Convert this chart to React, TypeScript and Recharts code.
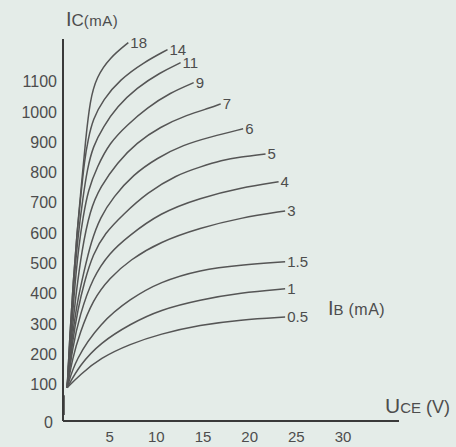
import React from "react";
import { LineChart, Line, XAxis, YAxis, LabelList } from "recharts";

// U_CE (V) vs I_C (mA), one curve per base current I_B (mA)
const ib18 = [[0.45, 90], [0.75, 270], [1.1, 440], [1.5, 600], [1.8, 700], [2.1, 800], [2.4, 900], [2.9, 1040], [3.6, 1115], [5.0, 1178], [7.0, 1228]];
const ib14 = [[0.45, 90], [0.75, 270], [1.1, 440], [1.5, 600], [1.9, 720], [2.3, 840], [2.7, 910], [3.2, 975], [4.3, 1040], [6.1, 1106], [8.6, 1162], [11.2, 1205]];
const ib11 = [[0.45, 90], [0.8, 270], [1.15, 430], [1.6, 590], [2.15, 720], [2.6, 810], [3.2, 885], [4.3, 950], [5.8, 1017], [7.9, 1079], [10.4, 1129], [12.6, 1162]];
const ib9 = [[0.45, 90], [0.85, 270], [1.25, 420], [1.7, 560], [2.15, 653], [2.7, 743], [3.65, 818], [5.0, 898], [6.9, 957], [9.0, 1013], [11.5, 1063], [14.0, 1096]];
const ib7 = [[0.45, 90], [0.9, 260], [1.4, 400], [2.0, 540], [2.9, 677], [4.0, 752], [5.8, 832], [7.9, 898], [10.4, 950], [13.3, 990], [15.8, 1013], [16.9, 1026]];
const ib6 = [[0.45, 90], [0.95, 250], [1.5, 370], [2.3, 480], [3.0, 570], [4.0, 653], [5.4, 719], [7.5, 792], [10.1, 848], [12.9, 891], [15.8, 917], [19.3, 944]];
const ib5 = [[0.45, 90], [1.0, 240], [1.6, 350], [2.3, 440], [3.2, 530], [4.5, 600], [6.4, 660], [9.0, 733], [12.2, 792], [14.7, 818], [17.0, 840], [19.0, 851], [21.7, 861]];
const ib4 = [[0.45, 90], [1.0, 220], [1.8, 330], [3.2, 455], [5.0, 535], [6.9, 587], [10.4, 667], [14.7, 716], [19.0, 749], [23.1, 769]];
const ib3 = [[0.45, 90], [1.0, 185], [1.8, 270], [3.2, 380], [5.0, 452], [7.2, 512], [10.4, 571], [14.7, 617], [19.0, 650], [23.8, 673]];
const ib1_5 = [[0.45, 90], [1.3, 182], [4.0, 304], [7.2, 383], [10.4, 439], [14.7, 479], [19.0, 495], [23.8, 505]];
const ib1 = [[0.45, 90], [1.8, 165], [4.0, 238], [7.2, 300], [10.4, 347], [14.7, 380], [19.0, 403], [23.8, 416]];
const ib0_5 = [[0.45, 90], [1.8, 132], [4.0, 188], [7.2, 234], [10.4, 267], [14.7, 297], [19.0, 314], [23.8, 323]];
const saturation = [[0, 0], [0, 65]];

const curveNames = ["18", "14", "11", "9", "7", "6", "5", "4", "3", "1.5", "1", "0.5"];
const curveValues = [ib18, ib14, ib11, ib9, ib7, ib6, ib5, ib4, ib3, ib1_5, ib1, ib0_5];

const xTicks = [5, 10, 15, 20, 25, 30];
const yTicks = [0, 100, 200, 300, 400, 500, 600, 700, 800, 900, 1000, 1100];

const INK = "#4d4d4d";
const FONT = "'Liberation Sans', Arial, sans-serif";

const toRows = (pts: number[][]) => pts.map(([v, i]) => ({ v, i }));

const YTick = (props: any) => {
  const { x, y, payload } = props;
  const zero = payload.value === 0;
  return (
    <text
      x={zero ? x - 4 : x}
      y={zero ? y + 7 : y}
      dy="0.36em"
      textAnchor="end"
      fill={INK}
      fontSize={16}
      fontFamily={FONT}
    >
      {payload.value}
    </text>
  );
};

const endLabel = (name: string, last: number) => (props: any) => {
  const { x, y, index } = props;
  if (index !== last) return null;
  return (
    <text x={x + 2} y={y} dy="0.36em" fill={INK} fontSize={15} fontFamily={FONT}>
      {name}
    </text>
  );
};

export default function App() {
  return (
    <div style={{ position: "absolute", left: 0, top: 0, width: 456, height: 447, background: "#e4ece8", fontFamily: FONT }}>
      <LineChart width={456} height={447} margin={{ top: 39, right: 57, bottom: 0, left: 0 }}>
        <XAxis
          type="number"
          dataKey="v"
          domain={[0, 36]}
          ticks={xTicks}
          allowDataOverflow
          height={26}
          tickLine={false}
          tickMargin={4}
          axisLine={{ stroke: "#3a3a3a", strokeWidth: 2 }}
          tick={{ fill: INK, fontSize: 15, fontFamily: FONT }}
        />
        <YAxis
          type="number"
          dataKey="i"
          domain={[-20, 1240]}
          ticks={yTicks}
          allowDataOverflow
          width={63}
          tickLine={false}
          tickMargin={0}
          axisLine={{ stroke: "#3a3a3a", strokeWidth: 2 }}
          tick={<YTick />}
        />
        <Line
          data={toRows(saturation)}
          dataKey="i"
          stroke="#3a3a3a"
          strokeWidth={3.5}
          dot={false}
          isAnimationActive={false}
        />
        {curveValues.map((pts, k) => (
          <Line
            key={curveNames[k]}
            data={toRows(pts)}
            dataKey="i"
            type="basis"
            stroke="#555"
            strokeWidth={1.5}
            dot={false}
            isAnimationActive={false}
          >
            <LabelList dataKey="i" content={endLabel(curveNames[k], pts.length - 1)} />
          </Line>
        ))}
      </LineChart>
      <svg width={456} height={447} style={{ position: "absolute", left: 0, top: 0, pointerEvents: "none" }}>
        <text x={66} y={26} fill={INK} fontFamily={FONT}>
          <tspan fontSize={20}>I</tspan>
          <tspan fontSize={17}>C</tspan>
          <tspan fontSize={15} letterSpacing={0.5}>(mA)</tspan>
        </text>
        <text x={328} y={315} fill={INK} fontFamily={FONT}>
          <tspan fontSize={20}>I</tspan>
          <tspan fontSize={15}>B</tspan>
          <tspan fontSize={16} letterSpacing={0.5}> (mA)</tspan>
        </text>
        <text x={385} y={413} fill={INK} fontFamily={FONT}>
          <tspan fontSize={21}>U</tspan>
          <tspan fontSize={15}>CE</tspan>
          <tspan fontSize={18}> (V)</tspan>
        </text>
      </svg>
    </div>
  );
}
